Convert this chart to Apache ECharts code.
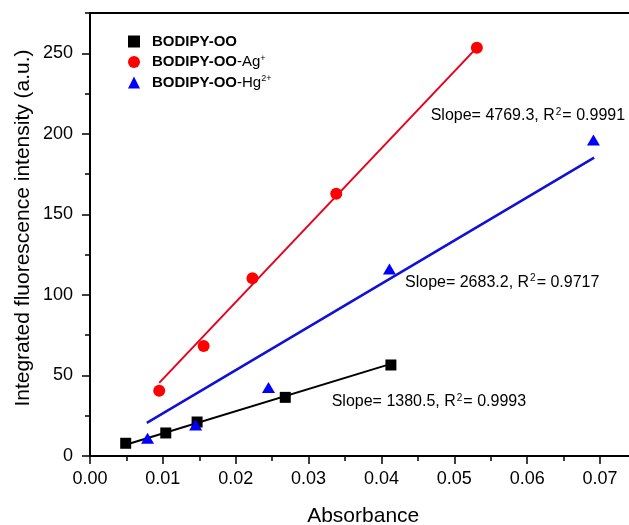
<!DOCTYPE html>
<html>
<head>
<meta charset="utf-8">
<script src="https://cdn.jsdelivr.net/npm/echarts@6/dist/echarts.min.js"></script>
<style>
html,body{margin:0;padding:0;background:#fff;overflow:hidden;width:629px;height:525px;}
#chart{width:640px;height:525px;}
</style>
</head>
<body>
<div id="chart"></div>
<script>
// ---- data ----
var seriesNames = ['BODIPY-OO', 'BODIPY-OO-Ag+', 'BODIPY-OO-Hg2+'];

var ooX = [0.0049, 0.0104, 0.0147, 0.0268, 0.0413];
var ooY = [7.9, 14.3, 21.1, 36.4, 56.5];

var agX = [0.0095, 0.0156, 0.0223, 0.0338, 0.0531];
var agY = [40.5, 68.3, 110.3, 162.8, 253.5];

var hgX = [0.0079, 0.0145, 0.0245, 0.0411, 0.0691];
var hgY = [11.0, 19.2, 42.6, 116.1, 196.2];

// fitted lines (end points)
var ooFitX = [0.0049, 0.0413];
var ooFitY = [7.0, 57.2];
var agFitX = [0.0095, 0.0531];
var agFitY = [45.4, 253.5];
var hgFitX = [0.0078, 0.0692];
var hgFitY = [20.6, 185.2];

var fitLabels = [
  {slope: '1380.5', r2: '0.9993'},
  {slope: '4769.3', r2: '0.9991'},
  {slope: '2683.2', r2: '0.9717'}
];

var xTicks = [0, 0.07, 0.01];   // min, max, step of labelled ticks
var yTicks = [0, 250, 50];

function pairs(xs, ys) { return xs.map(function (x, i) { return [x, ys[i]]; }); }

var FONT = '"Liberation Sans", Arial, sans-serif';

var chart = echarts.init(document.getElementById('chart'), null, {renderer: 'canvas'});

function fitText(f) {
  return '{t|Slope= ' + f.slope + ', R}{s|2}{t|= ' + f.r2 + '}';
}
var fitRich = {
  t: {fontSize: 16, fontFamily: FONT, color: '#000', lineHeight: 18},
  s: {fontSize: 10, fontFamily: FONT, color: '#000', verticalAlign: 'top', lineHeight: 18, padding: [0, 1, 0, 1]}
};

var option = {
  backgroundColor: '#fff',
  animation: false,
  grid: [
    {left: 90, width: 546.43, top: 13, bottom: 69, outerBoundsMode: 'none', containLabel: false,
      show: true, borderColor: '#000', borderWidth: 2, backgroundColor: 'transparent'},
    {left: 90, width: 510, top: 53.27, bottom: 69, outerBoundsMode: 'none', containLabel: false}
  ],
  xAxis: [
    {
      type: 'value', gridIndex: 0, min: 0, max: 0.075, interval: 0.005,
      axisLine: {show: true, onZero: false, lineStyle: {color: '#000', width: 2}},
      axisTick: {show: true, inside: false, length: 5, lineStyle: {color: '#000', width: 1.5}},
      axisLabel: {show: false},
      splitLine: {show: false},
      name: 'Absorbance', nameLocation: 'middle', nameGap: 50,
      nameTextStyle: {fontSize: 21, fontFamily: FONT, color: '#000'}
    },
    {
      type: 'value', gridIndex: 1, min: xTicks[0], max: xTicks[1], interval: xTicks[2],
      axisLine: {show: false},
      axisTick: {show: true, inside: false, length: 8, lineStyle: {color: '#000', width: 1.5}},
      axisLabel: {show: true, margin: 14, fontSize: 18, fontFamily: FONT, color: '#000',
        formatter: function (v) { return v.toFixed(2); }},
      splitLine: {show: false}
    }
  ],
  yAxis: [
    {
      type: 'value', gridIndex: 0, min: 0, max: 275, interval: 25,
      axisLine: {show: true, onZero: false, lineStyle: {color: '#000', width: 2}},
      axisTick: {show: true, inside: false, length: 5, lineStyle: {color: '#000', width: 1.5}},
      axisLabel: {show: false},
      splitLine: {show: false},
      name: 'Integrated fluorescence intensity (a.u.)', nameLocation: 'middle', nameGap: 56,
      nameTextStyle: {fontSize: 21, fontFamily: FONT, color: '#000', padding: [0, 0, 0, 13]}
    },
    {
      type: 'value', gridIndex: 1, min: yTicks[0], max: yTicks[1], interval: yTicks[2],
      axisLine: {show: false},
      axisTick: {show: true, inside: false, length: 8, lineStyle: {color: '#000', width: 1.5}},
      axisLabel: {show: true, margin: 17, fontSize: 18, fontFamily: FONT, color: '#000'},
      splitLine: {show: false}
    }
  ],
  legend: {
    data: seriesNames,
    orient: 'vertical',
    left: 123, top: 29,
    itemWidth: 12, itemHeight: 12, itemGap: 5,
    selectedMode: false,
    formatter: function (name) {
      if (name === seriesNames[0]) return '{b|BODIPY-OO}';
      if (name === seriesNames[1]) return '{b|BODIPY-OO}{n|-Ag}{s|+}';
      return '{b|BODIPY-OO}{n|-Hg}{s|2+}';
    },
    textStyle: {
      padding: [0, 0, 0, 7],
      rich: {
        b: {fontSize: 15, fontWeight: 'bold', fontFamily: FONT, color: '#000', lineHeight: 16},
        n: {fontSize: 15, fontFamily: FONT, color: '#000', lineHeight: 16},
        s: {fontSize: 9, fontFamily: FONT, color: '#000', verticalAlign: 'top', lineHeight: 16}
      }
    }
  },
  graphic: [
    {type: 'text', left: 331.7, top: 393, z: 10, style: {text: fitText(fitLabels[0]), rich: fitRich}},
    {type: 'text', left: 430.7, top: 107, z: 10, style: {text: fitText(fitLabels[1]), rich: fitRich}},
    {type: 'text', left: 405, top: 273.5, z: 10, style: {text: fitText(fitLabels[2]), rich: fitRich}}
  ],
  series: [
    {type: 'line', name: 'fitOO', xAxisIndex: 0, yAxisIndex: 0, data: pairs(ooFitX, ooFitY),
      showSymbol: false, symbol: 'none', z: 2, lineStyle: {color: '#000', width: 2}},
    {type: 'line', name: 'fitAg', xAxisIndex: 0, yAxisIndex: 0, data: pairs(agFitX, agFitY),
      showSymbol: false, symbol: 'none', z: 2, lineStyle: {color: '#e8001c', width: 2}},
    {type: 'line', name: 'fitHg', xAxisIndex: 0, yAxisIndex: 0, data: pairs(hgFitX, hgFitY),
      showSymbol: false, symbol: 'none', z: 2, lineStyle: {color: '#1010d8', width: 2.5}},
    {type: 'scatter', name: seriesNames[0], xAxisIndex: 0, yAxisIndex: 0, data: pairs(ooX, ooY),
      symbol: 'rect', symbolSize: 11, z: 3, itemStyle: {color: '#000', opacity: 1}},
    {type: 'scatter', name: seriesNames[1], xAxisIndex: 0, yAxisIndex: 0, data: pairs(agX, agY),
      symbol: 'circle', symbolSize: 12, z: 3, itemStyle: {color: '#ff0000', opacity: 1}},
    {type: 'scatter', name: seriesNames[2], xAxisIndex: 0, yAxisIndex: 0, data: pairs(hgX, hgY),
      symbol: 'triangle', symbolSize: [13, 11], z: 3, itemStyle: {color: '#0000ff', opacity: 1}}
  ]
};
chart.setOption(option);
</script>
</body>
</html>
